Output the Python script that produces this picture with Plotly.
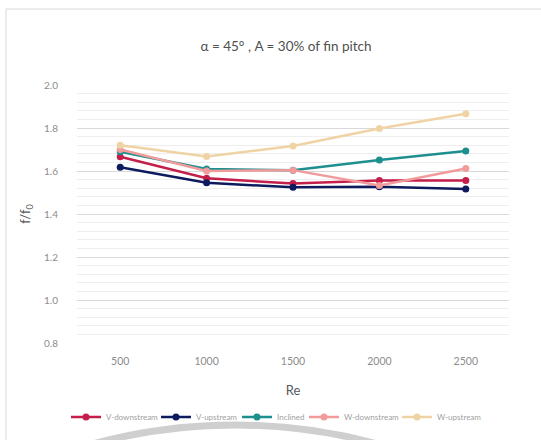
import plotly.graph_objects as go

re_labels = ["500", "1000", "1500", "2000", "2500"]
series_names = ["V-downstream", "V-upstream", "Inclined", "W-downstream", "W-upstream"]
v_downstream = [1.666, 1.566, 1.542, 1.556, 1.556]
v_upstream = [1.617, 1.545, 1.524, 1.527, 1.516]
inclined = [1.690, 1.609, 1.604, 1.651, 1.693]
w_downstream = [1.700, 1.600, 1.604, 1.533, 1.612]
w_upstream = [1.720, 1.668, 1.716, 1.798, 1.866]
series_values = [v_downstream, v_upstream, inclined, w_downstream, w_upstream]
colors = ["#C41E4A", "#0D1B5E", "#1E8F8F", "#F29B9B", "#F0D3A5"]
legend_widths = [45, 36, 22, 48, 50]

W, H = 541, 440
L, R, T, B = 77, 32, 85, 97
pw, ph = W - L - R, H - T - B

def px_x(px):
    return (px - L) / pw

def px_y(py):
    return (H - B - py) / ph

fig = go.Figure()
for name, vals, col, lw in zip(series_names, series_values, colors, legend_widths):
    fig.add_trace(go.Scatter(
        x=re_labels, y=vals, name=name, mode="lines+markers",
        line=dict(color=col, width=2.5),
        marker=dict(color=col, size=7),
        legendwidth=lw,
    ))

fig.update_layout(
    width=W, height=H,
    margin=dict(l=L, r=R, t=T, b=B, autoexpand=False),
    paper_bgcolor="white", plot_bgcolor="white",
    font=dict(family="Lato, sans-serif", color="#8c8c8c", size=10),
    title=dict(
        text="α = 45° , A = 30% of fin pitch",
        x=286 / W, xref="container", xanchor="center",
        y=1 - 46 / H, yref="container", yanchor="middle",
        font=dict(size=13.5, color="#505050", family="Lato, sans-serif"),
    ),
    xaxis=dict(
        type="category", showgrid=False, zeroline=False, showline=False,
        ticks="", tickfont=dict(size=10.5, color="#8c8c8c"),
        range=[-0.5, 4.5], automargin=False, ticklabelstandoff=10,
        title=dict(text="Re", font=dict(size=13, color="#595959"), standoff=20),
    ),
    yaxis=dict(
        range=[0.8, 2.0], dtick=0.2, tickformat=".1f",
        showgrid=True, gridcolor="#d9d9d9", gridwidth=1,
        zeroline=False, showline=False, ticks="", automargin=False,
        ticklabelstandoff=18,
        tickfont=dict(size=10, color="#8c8c8c"),
        minor=dict(dtick=0.04, showgrid=True, gridcolor="#eeeeee", gridwidth=1),
        title=dict(text="f/f<sub>0</sub>", font=dict(size=13, color="#595959"), standoff=10),
    ),
    legend=dict(
        orientation="h", xref="container", x=66 / W, xanchor="left",
        yref="container", y=1 - 417 / H, yanchor="middle",
        font=dict(size=8, color="#a0a0a0"),
        itemwidth=30, tracegroupgap=0, borderwidth=0,
        bgcolor="rgba(0,0,0,0)",
    ),
    showlegend=True,
)

# outer chart border (left/top visible)
fig.add_shape(type="rect", xref="paper", yref="paper",
              x0=px_x(6), x1=px_x(560), y0=px_y(460), y1=px_y(9),
              line=dict(color="#d9d9d9", width=1), fillcolor="rgba(0,0,0,0)",
              layer="below")
# grey arc at the bottom
cx, cy, rad = 235, 965, 540
fig.add_shape(type="circle", xref="paper", yref="paper",
              x0=px_x(cx - rad), x1=px_x(cx + rad),
              y0=px_y(cy + rad), y1=px_y(cy - rad),
              line=dict(color="#cfcfcf", width=7), fillcolor="rgba(0,0,0,0)",
              layer="above")

fig.write_html("out.html", config={"displayModeBar": False},
               post_script="document.body.style.margin='0px';")
